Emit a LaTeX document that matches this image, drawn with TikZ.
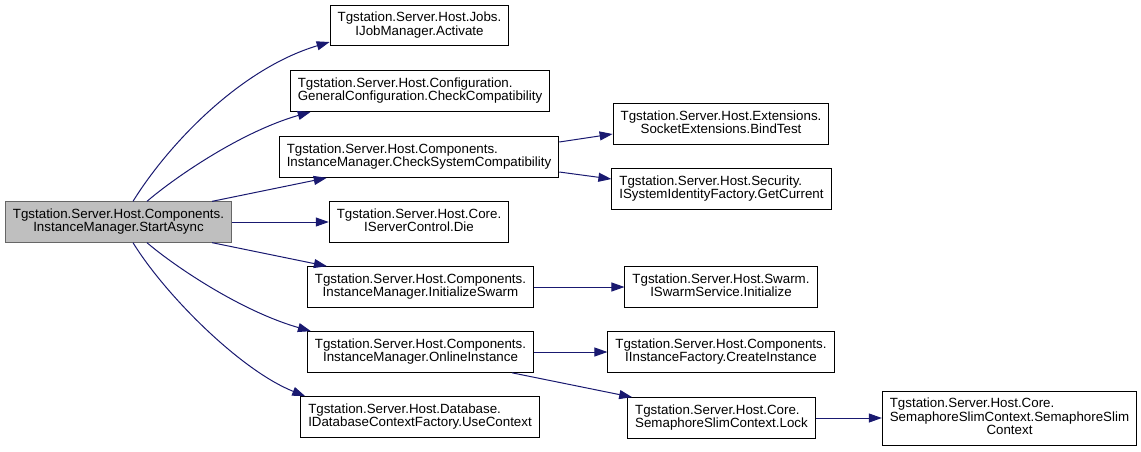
\documentclass[tikz,border=0pt]{standalone}
\usepackage{fontspec}
\setmainfont{Liberation Sans}
\usepackage{tikz}
\usetikzlibrary{arrows.meta, positioning}

\definecolor{midnight}{RGB}{25,25,112}
\definecolor{rootfill}{RGB}{191,191,191}
\definecolor{rootline}{RGB}{102,102,102}

% first line left, last line centred
\newcommand{\fnlabel}[2]{\begin{tabular}{@{}l@{}}#1\\\multicolumn{1}{@{}c@{}}{#2}\end{tabular}}

\begin{document}
\begin{tikzpicture}[
    x=1pt, y=-1pt,
    block/.style={rectangle, draw=black, line width=1pt, fill=white, inner xsep=7.5pt, inner ysep=6.67pt, font=\fontsize{13.33}{13.33}\selectfont},
    startblock/.style={block, draw=rootline, fill=rootfill},
    arrow/.style={-{Triangle[length=13pt, width=9pt]}, line width=1pt, draw=midnight}
]
    \useasboundingbox (0,0) rectangle (1141,451);

    % Nodos
    \node[startblock] (start) at (118.5,222) {\fnlabel{Tgstation.Server.Host.Components.}{InstanceManager.StartAsync}};

    \node[block] (activate) at (419.5,25.5) {\fnlabel{Tgstation.Server.Host.Jobs.}{IJobManager.Activate}};
    \node[block] (checkcompat) at (420,91) {\fnlabel{Tgstation.Server.Host.Configuration.}{GeneralConfiguration.CheckCompatibility}};
    \node[block] (checksys) at (419,157) {\fnlabel{Tgstation.Server.Host.Components.}{InstanceManager.CheckSystemCompatibility}};
    \node[block] (die) at (419,222) {\fnlabel{Tgstation.Server.Host.Core.}{IServerControl.Die}};
    \node[block] (initswarm) at (420.5,287) {\fnlabel{Tgstation.Server.Host.Components.}{InstanceManager.InitializeSwarm}};
    \node[block] (online) at (420.5,352) {\fnlabel{Tgstation.Server.Host.Components.}{InstanceManager.OnlineInstance}};
    \node[block] (usecontext) at (420,417) {\fnlabel{Tgstation.Server.Host.Database.}{IDatabaseContextFactory.UseContext}};

    \node[block] (bindtest) at (721,124) {\fnlabel{Tgstation.Server.Host.Extensions.}{SocketExtensions.BindTest}};
    \node[block] (getcurrent) at (721.5,189) {\fnlabel{Tgstation.Server.Host.Security.}{ISystemIdentityFactory.GetCurrent}};
    \node[block] (swarminit) at (721,287) {\fnlabel{Tgstation.Server.Host.Swarm.}{ISwarmService.Initialize}};
    \node[block] (createinst) at (721,352) {\fnlabel{Tgstation.Server.Host.Components.}{IInstanceFactory.CreateInstance}};
    \node[block] (lock) at (721.5,418) {\fnlabel{Tgstation.Server.Host.Core.}{SemaphoreSlimContext.Lock}};

    \node[block] (semctx) at (1009.5,418) {\begin{tabular}{@{}l@{}}Tgstation.Server.Host.Core.\\SemaphoreSlimContext.SemaphoreSlim\\\multicolumn{1}{@{}c@{}}{Context}\end{tabular}};

    % Conexiones
    \draw[arrow] ([xshift=14.5pt]start.north) .. controls +(32,-52) and +(-93,28) .. ([yshift=-16.5pt]activate.west);
    \draw[arrow] ([xshift=28.5pt]start.north) .. controls +(23,-20) and +(-73,21) .. ([xshift=21pt]checkcompat.south west);
    \draw[arrow] ([xshift=-20pt]start.north east) -- ([xshift=48pt]checksys.south west);
    \draw[arrow] (start) -- (die);
    \draw[arrow] ([xshift=-20pt]start.south east) -- ([xshift=20pt]initswarm.north west);
    \draw[arrow] ([xshift=28.5pt]start.south) .. controls +(23,20) and +(-73,-21) .. ([xshift=4pt]online.north west);
    \draw[arrow] ([xshift=14.5pt]start.south) .. controls +(32,52) and +(-65,-26) .. ([xshift=5pt]usecontext.north west);

    \draw[arrow] ([yshift=15pt]checksys.east) -- ([yshift=-10pt]bindtest.west);
    \draw[arrow] ([yshift=-15pt]checksys.east) -- ([yshift=10pt]getcurrent.west);
    \draw[arrow] (initswarm) -- (swarminit);
    \draw[arrow] (online) -- (createinst);
    \draw[arrow] ([xshift=-22pt]online.south east) -- ([xshift=5pt]lock.north west);
    \draw[arrow] (lock) -- (semctx);

\end{tikzpicture}
\end{document}
